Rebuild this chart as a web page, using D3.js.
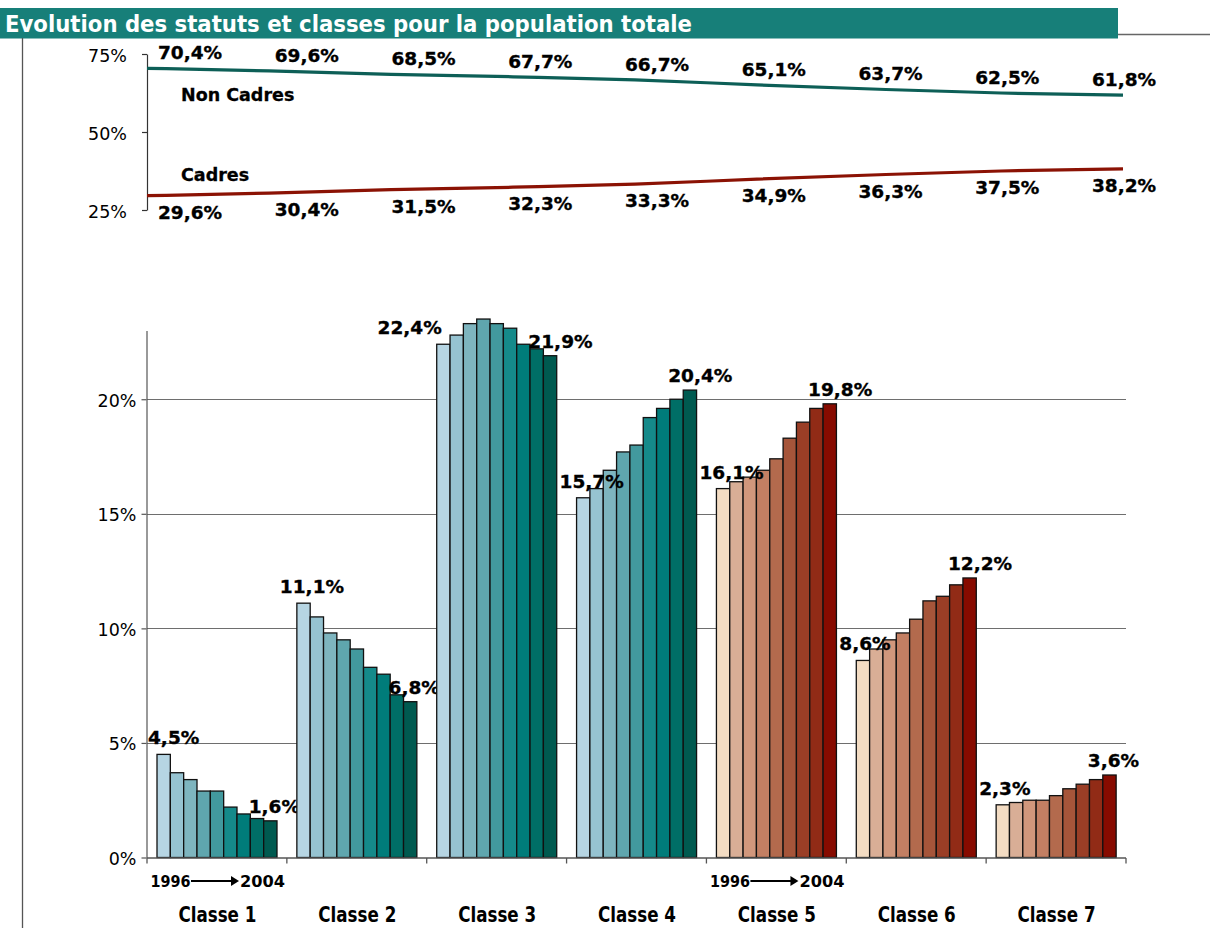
<!DOCTYPE html>
<html>
<head>
<meta charset="utf-8">
<script src="https://cdn.jsdelivr.net/npm/d3@7/dist/d3.min.js"></script>
<style>
  html, body { margin: 0; padding: 0; background: #ffffff; }
  svg { display: block; }
  text { font-family: "DejaVu Sans", Verdana, sans-serif; }
</style>
</head>
<body>
<svg id="chart" width="1210" height="928"></svg>
<script>
// ---- Data ----------------------------------------------------------------
const years = ["1996", "1997", "1998", "1999", "2000", "2001", "2002", "2003", "2004"];

// Share of the total population by status (%)
const nonCadres = [70.4, 69.6, 68.5, 67.7, 66.7, 65.1, 63.7, 62.5, 61.8];
const cadres    = [29.6, 30.4, 31.5, 32.3, 33.3, 34.9, 36.3, 37.5, 38.2];

// Share of the total population by class, 1996 to 2004 (%)
const classes = ["Classe 1", "Classe 2", "Classe 3", "Classe 4", "Classe 5", "Classe 6", "Classe 7"];
const classFamily = ["Non Cadres", "Non Cadres", "Non Cadres", "Non Cadres", "Cadres", "Cadres", "Cadres"];
const classe1 = [4.5, 3.7, 3.4, 2.9, 2.9, 2.2, 1.9, 1.7, 1.6];
const classe2 = [11.1, 10.5, 9.8, 9.5, 9.1, 8.3, 8.0, 7.1, 6.8];
const classe3 = [22.4, 22.8, 23.3, 23.5, 23.3, 23.1, 22.4, 22.2, 21.9];
const classe4 = [15.7, 16.1, 16.9, 17.7, 18.0, 19.2, 19.6, 20.0, 20.4];
const classe5 = [16.1, 16.4, 16.6, 16.9, 17.4, 18.3, 19.0, 19.6, 19.8];
const classe6 = [8.6, 9.1, 9.5, 9.8, 10.4, 11.2, 11.4, 11.9, 12.2];
const classe7 = [2.3, 2.4, 2.5, 2.5, 2.7, 3.0, 3.2, 3.4, 3.6];
const classValues = [classe1, classe2, classe3, classe4, classe5, classe6, classe7];

const lineTicks = [25, 50, 75];
const barTicks = [0, 5, 10, 15, 20];

// ---- Palette -------------------------------------------------------------
const yearColors = {
  "Non Cadres": ["#b6d5e3", "#96c3d1", "#7eb5bf", "#5fa6ae", "#42999e", "#158a8a", "#007c7a", "#006e66", "#005a50"],
  "Cadres":     ["#f3dcc3", "#d9ae96", "#d1977c", "#c37f63", "#b36a4d", "#a6553a", "#9a3e26", "#912b16", "#870b00"]
};
const lineColors = { "Non Cadres": "#0d5f57", "Cadres": "#8b1204" };
const bandColor = "#177f79";

const fmt = v => d3.format(".1f")(v).replace(".", ",") + "%";
const condensed = '"DejaVu Sans Condensed", "Liberation Sans Narrow", "DejaVu Sans", sans-serif';

const svg = d3.select("#chart");

// bold value labels get a hairline outline to match a heavier face
const boldLabel = sel => sel
  .style("font-weight", "bold").style("font-size", "18.5px")
  .attr("fill", "#000").attr("stroke", "#000").attr("stroke-width", 0.35);

// ---- Title band and frame lines -----------------------------------------
svg.append("rect").attr("x", 0).attr("y", 8).attr("width", 1118).attr("height", 30.5).attr("fill", bandColor);
svg.append("text")
  .attr("x", 5).attr("y", 31.5)
  .attr("fill", "#ffffff")
  .style("font-family", condensed)
  .style("font-weight", "bold").style("font-size", "23px")
  .attr("textLength", 687).attr("lengthAdjust", "spacingAndGlyphs")
  .text("Evolution des statuts et classes pour la population totale");
svg.append("line").attr("x1", 1118).attr("x2", 1210).attr("y1", 34.5).attr("y2", 34.5)
  .attr("stroke", "#666").attr("stroke-width", 1.5);
svg.append("line").attr("x1", 22.5).attr("x2", 22.5).attr("y1", 38).attr("y2", 928)
  .attr("stroke", "#555").attr("stroke-width", 1.3);

// ---- Top panel: status lines --------------------------------------------
const lx = d3.scalePoint().domain(years).range([147, 1123]);
const labelX = d3.scalePoint().domain(years).range([190, 1124]);
const ly = d3.scaleLinear().domain([25, 75]).range([210, 54]);

const topAxis = svg.append("g").attr("transform", "translate(147,0)")
  .call(d3.axisLeft(ly).tickValues(lineTicks).tickSize(5).tickSizeOuter(0).tickFormat(d => d + "%"));
topAxis.select(".domain").attr("stroke", "#333").attr("stroke-width", 1.2);
topAxis.selectAll(".tick line").attr("stroke", "#333").attr("stroke-width", 1.2);
topAxis.selectAll(".tick text")
  .attr("x", -20).attr("dy", "0.4em")
  .style("font-family", '"DejaVu Sans", sans-serif')
  .style("font-size", "17.5px").attr("fill", "#000");

const series = [
  { name: "Non Cadres", values: nonCadres, above: true },
  { name: "Cadres", values: cadres, above: false }
];
const line = d3.line().x((d, i) => lx(years[i])).y(d => ly(d)).curve(d3.curveMonotoneX);

series.forEach(s => {
  svg.append("path").datum(s.values)
    .attr("d", line)
    .attr("fill", "none")
    .attr("stroke", lineColors[s.name])
    .attr("stroke-width", 3.2);

  svg.append("g").selectAll("text").data(s.values).join("text")
    .attr("x", (d, i) => labelX(years[i]))
    .attr("y", d => s.above ? ly(d) - 9 : ly(d) + 23)
    .attr("text-anchor", "middle")
    .call(boldLabel)
    .text(d => fmt(d));

  svg.append("text")
    .attr("x", lx(years[0]) + 34)
    .attr("y", ly(s.values[0]) + (s.above ? 33 : -15))
    .style("font-weight", "bold").style("font-size", "17.5px")
    .attr("fill", "#000").attr("stroke", "#000").attr("stroke-width", 0.3)
    .text(s.name);
});

// ---- Bottom panel: classes ----------------------------------------------
const gx = d3.scaleBand().domain(classes).range([147, 1126]).padding(0);
const yx = d3.scaleBand().domain(years).range([10, 130]).padding(0);
const by = d3.scaleLinear().domain([0, 23]).range([857.5, 330.5]);

// gridlines
svg.append("g").selectAll("line").data(barTicks.filter(t => t > 0)).join("line")
  .attr("x1", 147).attr("x2", 1126)
  .attr("y1", d => Math.round(by(d)) + 0.5).attr("y2", d => Math.round(by(d)) + 0.5)
  .attr("stroke", "#6e6e6e").attr("stroke-width", 1);

const leftAxis = svg.append("g").attr("transform", "translate(146.5,0)")
  .call(d3.axisLeft(by).tickValues(barTicks).tickSize(5).tickSizeOuter(0).tickFormat(d => d + "%"));
leftAxis.select(".domain").attr("stroke", "#555").attr("stroke-width", 1.2);
leftAxis.selectAll(".tick line").attr("stroke", "#555").attr("stroke-width", 1.2);
leftAxis.selectAll(".tick text")
  .attr("x", -10).attr("dy", "0.4em")
  .style("font-family", '"DejaVu Sans", sans-serif')
  .style("font-size", "17.5px").attr("fill", "#000");

// bars
const groups = svg.append("g").selectAll("g").data(classes).join("g")
  .attr("transform", c => `translate(${gx(c)},0)`);

groups.each(function (c, gi) {
  const vals = classValues[gi];
  const colors = yearColors[classFamily[gi]];
  const g = d3.select(this);
  g.selectAll("rect").data(vals).join("rect")
    .attr("x", (d, i) => yx(years[i]))
    .attr("y", d => by(d))
    .attr("width", yx.bandwidth())
    .attr("height", d => by(0) - by(d))
    .attr("fill", (d, i) => colors[i])
    .attr("stroke", "#111")
    .attr("stroke-width", 1.3);

  // value labels on the first and last year; keep them clear of the y axis
  const first = vals[0], last = vals[vals.length - 1];
  const peakInside = d3.max(vals) > Math.max(first, last);
  const fx = yx(years[0]);
  const axisX = gx(classes[0]) - gx(c);
  g.append("text")
    .attr("x", peakInside ? fx + 5 : Math.max(fx - 17, axisX + 1))
    .attr("y", by(first) - 10)
    .attr("text-anchor", peakInside ? "end" : "start")
    .call(boldLabel)
    .text(fmt(first));
  g.append("text")
    .attr("x", yx(years[years.length - 1]) - 15)
    .attr("y", by(last) - 8)
    .attr("text-anchor", "start")
    .call(boldLabel)
    .text(fmt(last));

  // class name
  g.append("text")
    .attr("x", gx.bandwidth() / 2 + 0.5)
    .attr("y", 922)
    .attr("text-anchor", "middle")
    .style("font-family", condensed)
    .style("font-weight", "bold").style("font-size", "20.5px").attr("fill", "#000")
    .attr("textLength", 78).attr("lengthAdjust", "spacingAndGlyphs")
    .text(c);

  // year range note under the first class of each family
  if (gi === 0 || classFamily[gi] !== classFamily[gi - 1]) {
    const note = g.append("g").attr("transform", "translate(0,887)");
    note.append("text").attr("x", 3.5).attr("y", 0)
      .style("font-family", condensed)
      .style("font-weight", "bold").style("font-size", "16px").attr("fill", "#000")
      .attr("textLength", 40).attr("lengthAdjust", "spacingAndGlyphs")
      .text(years[0]);
    note.append("line").attr("x1", 44).attr("x2", 86).attr("y1", -6).attr("y2", -6)
      .attr("stroke", "#000").attr("stroke-width", 2);
    note.append("path").attr("d", "M84,-11 L92,-6 L84,-1 Z").attr("fill", "#000");
    note.append("text").attr("x", 93).attr("y", 0)
      .style("font-family", condensed)
      .style("font-weight", "bold").style("font-size", "16px").attr("fill", "#000")
      .attr("textLength", 45).attr("lengthAdjust", "spacingAndGlyphs")
      .text(years[years.length - 1]);
  }
});

// baseline with group separators
svg.append("line").attr("x1", 147).attr("x2", 1126).attr("y1", 858).attr("y2", 858)
  .attr("stroke", "#555").attr("stroke-width", 1.3);
svg.append("g").selectAll("line").data(classes.concat([null])).join("line")
  .attr("x1", (c, i) => i < classes.length ? gx(c) : 1126)
  .attr("x2", (c, i) => i < classes.length ? gx(c) : 1126)
  .attr("y1", 858).attr("y2", 863.5)
  .attr("stroke", "#555").attr("stroke-width", 1.3);
</script>
</body>
</html>
